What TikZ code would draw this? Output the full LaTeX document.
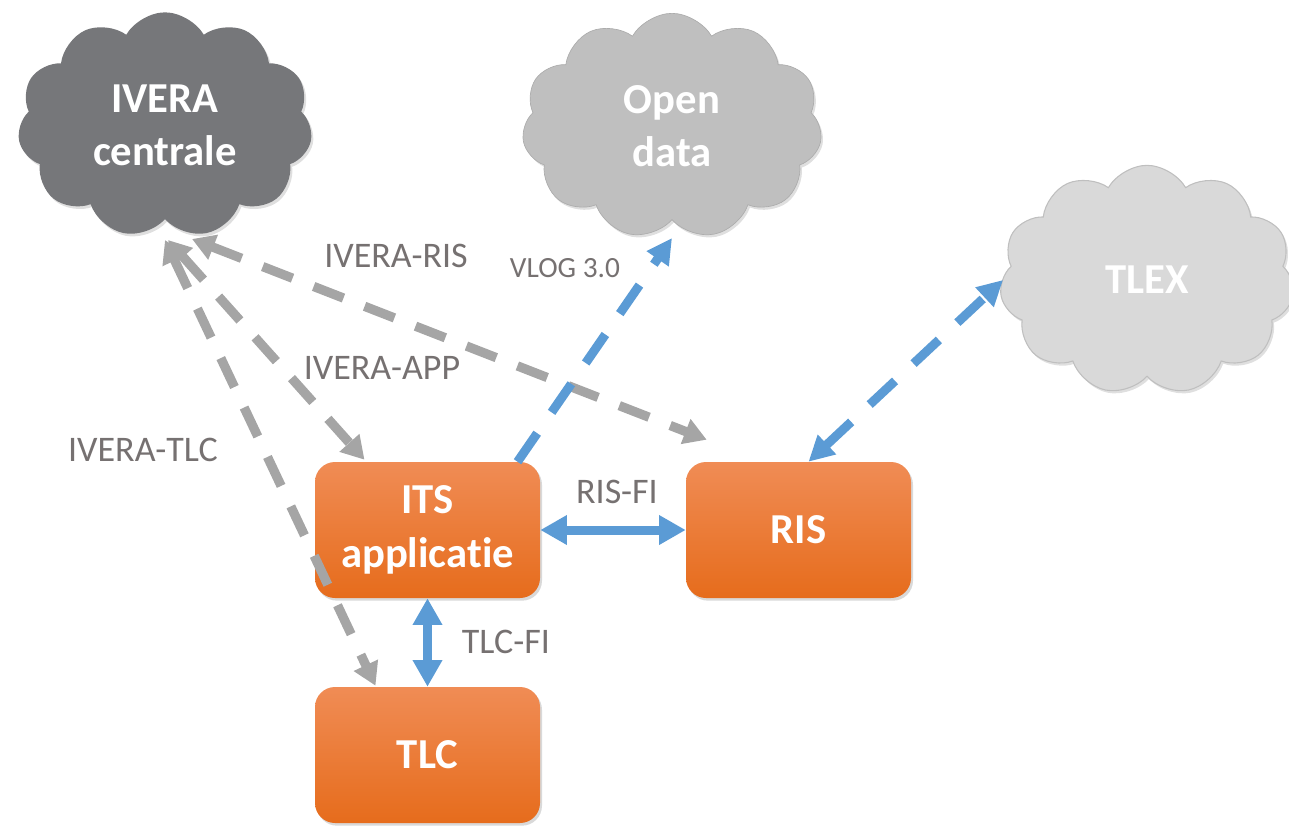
\documentclass[tikz,border=0pt]{standalone}
\usepackage{fontspec}
\setmainfont{Carlito}[Ligatures=NoCommon]
\usetikzlibrary{shapes.symbols,arrows.meta,calc,shadows}
\definecolor{ivgray}{RGB}{118,119,122}
\definecolor{odgray}{RGB}{191,191,191}
\definecolor{tlgray}{RGB}{217,217,217}
\definecolor{argray}{RGB}{165,165,165}
\definecolor{arblue}{RGB}{91,155,213}
\definecolor{lblgray}{RGB}{118,113,113}
\definecolor{ortop}{RGB}{240,140,85}
\definecolor{ormid}{RGB}{244,126,44}
\definecolor{orbot}{RGB}{230,108,28}
\begin{document}
\begin{tikzpicture}[x=0.75pt,y=-0.75pt,
  bigtext/.style={text=white, font=\fontsize{32}{40}\selectfont\bfseries, align=center},
  cloudnode/.style={cloud, cloud puffs=11, cloud puff arc=120, aspect=1.3, inner sep=0pt, bigtext,
    drop shadow={opacity=0.25, shadow xshift=1.5pt, shadow yshift=-2pt}},
  boxnode/.style={rectangle, rounded corners=15pt, minimum width=168.75pt, minimum height=102pt,
    top color=ortop, middle color=ormid, bottom color=orbot, bigtext,
    drop shadow={opacity=0.3, shadow xshift=1.5pt, shadow yshift=-2pt}},
  lbl/.style={text=lblgray, font=\fontsize{27}{32}\selectfont, inner sep=0pt},
  smalllbl/.style={text=lblgray, font=\fontsize{22}{26}\selectfont, inner sep=0pt},
  grayarrow/.style={draw=argray, line width=7pt, dash pattern=on 24pt off 17pt,
    >={Triangle[length=17pt,width=19pt]}},
  bluedash/.style={draw=arblue, line width=6.75pt, dash pattern=on 26pt off 19pt,
    >={Triangle[length=19pt,width=19pt]}},
  bluesolid/.style={draw=arblue, line width=6.75pt, >={Triangle[length=20pt,width=21pt]}}
]
\useasboundingbox (0,0) rectangle (1289,825);

% clouds
\node[cloudnode, fill=ivgray, minimum width=221pt, minimum height=169pt] (ivera) at (165,125) {IVERA\\centrale};
\node[cloudnode, fill=odgray, draw=odgray!90!black, line width=0.5pt, minimum width=225pt, minimum height=169pt] (open) at (672,126) {Open\\data};
\node[cloudnode, fill=tlgray, draw=odgray, line width=0.8pt, minimum width=221pt, minimum height=172pt] (tlex) at (1147,280) {TLEX};

% boxes
\node[boxnode] (its) at (427.5,530) {ITS\\applicatie};
\node[boxnode] (ris) at (798.5,530) {RIS};
\node[boxnode] (tlc) at (427.5,755) {TLC};

% gray connectors
\draw[grayarrow,<->] ($(ivera.center)+(0,115)$) -- ($(tlc.north)+(-52,-1)$);
\draw[grayarrow,<->] ($(ivera.center)+(3,115)$) -- ($(its.north)+(-63,-2)$);
\draw[grayarrow,<->] ($(ivera.center)+(27,114)$) -- ($(ris.north west)+(21,-22)$);

% blue connectors
\draw[bluedash,->] ($(its.north)+(90,0)$) -- ($(open.center)+(0,112)$);
\draw[bluedash,<->] ($(ris.north)+(10,0)$) -- ($(tlex.center)+(-144,0)$);
\draw[bluesolid,<->] (its.east) -- (ris.west);
\draw[bluesolid,<->] (its.south) -- (tlc.north);

% labels
\node[lbl] (lris) at (396,256) {IVERA-RIS};
\node[smalllbl] (lvlog) at (565,268) {VLOG 3.0};
\node[lbl] (lapp) at (382,368) {IVERA-APP};
\node[lbl] (ltlc) at (143,450) {IVERA-TLC};
\node[lbl] (lrisfi) at (617,492) {RIS-FI};
\node[lbl] (ltlcfi) at (506,642) {TLC-FI};
\end{tikzpicture}
\end{document}
